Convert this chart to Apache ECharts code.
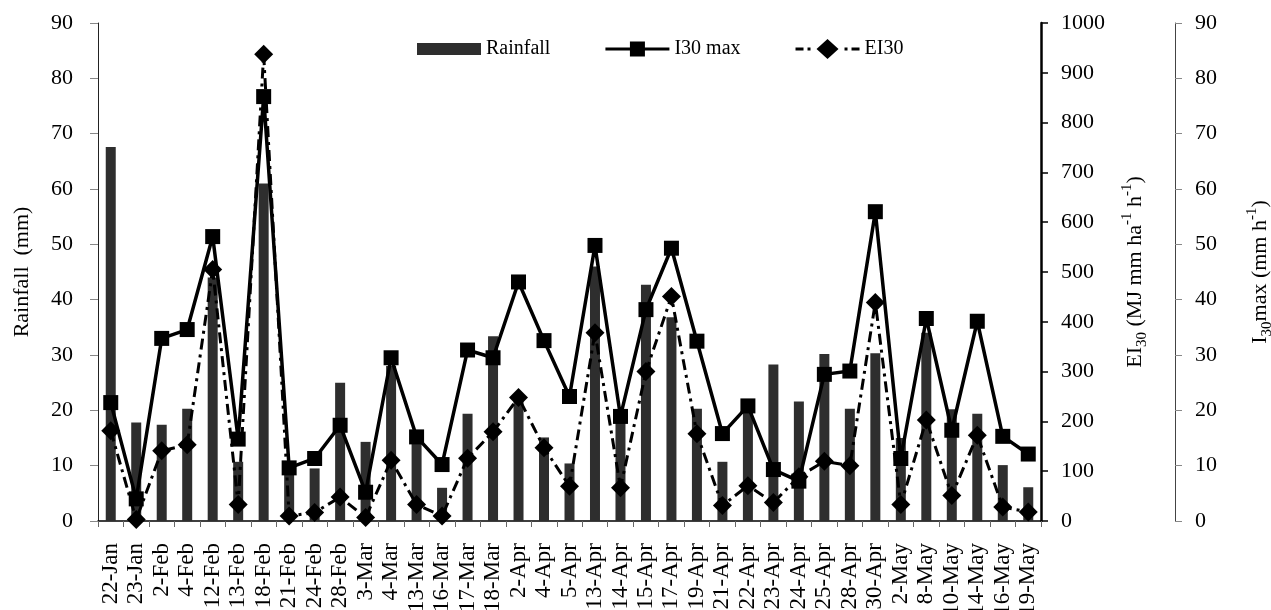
<!DOCTYPE html>
<html>
<head>
<meta charset="utf-8">
<script src="https://cdn.jsdelivr.net/npm/echarts@6/dist/echarts.min.js"></script>
<style>
html,body{margin:0;padding:0;background:#fff;}
#c{width:1271px;height:610px;}
</style>
</head>
<body>
<div id="c"></div>
<script>
var categories = ['22-Jan','23-Jan','2-Feb','4-Feb','12-Feb','13-Feb','18-Feb','21-Feb','24-Feb','28-Feb','3-Mar','4-Mar','13-Mar','16-Mar','17-Mar','18-Mar','2-Apr','4-Apr','5-Apr','13-Apr','14-Apr','15-Apr','17-Apr','19-Apr','21-Apr','22-Apr','23-Apr','24-Apr','25-Apr','28-Apr','30-Apr','2-May','8-May','10-May','14-May','16-May','19-May'];
var rainfall = [67.6,17.8,17.4,20.3,44,10.7,61.0,10,9.5,25.0,14.3,28,14.0,6.0,19.4,33.4,21.7,15.1,10.4,46,18,42.7,36.8,20.3,10.7,20,28.3,21.6,30.2,20.3,30.3,15,34,20.2,19.4,10.1,6.1];
var i30max = [21.4,4.0,33.0,34.6,51.4,14.8,76.7,9.6,11.3,17.3,5.2,29.5,15.2,10.2,30.9,29.5,43.2,32.6,22.5,49.8,18.9,38.2,49.3,32.5,15.8,20.8,9.3,7.2,26.5,27.1,55.9,11.3,36.6,16.4,36.1,15.3,12.1];
var ei30 = [181,3,141,153,505,33,937,10,17,48,7,122,33,10,126,179,248,147,70,378,67,300,451,175,31,71,37,89,120,111,439,33,203,51,172,28,18];
var leftTicks = [0,10,20,30,40,50,60,70,80,90];
var eiTicks = [0,100,200,300,400,500,600,700,800,900,1000];

var FONT = 'Liberation Serif';
var ICON_RAIN = 'path://M0,0 H64 V12 H0 Z';
var ICON_I30 = 'path://M0,8.5 H24.5 V2.5 H39.5 V8.5 H64 V11.5 H39.5 V17.5 H24.5 V11.5 H0 Z';
var ICON_EI = 'path://M0,8.5 H8 V11.5 H0 Z M12,8.5 H15 V11.5 H12 Z M21,10 L32,0 L43,10 L32,20 Z M49,8.5 H52 V11.5 H49 Z M56,8.5 H64 V11.5 H56 Z';

function richName(size, sub) {
  return {
    n: {fontFamily: FONT, fontSize: size, color: '#000', lineHeight: 30, verticalAlign: 'middle'},
    sub: {fontFamily: FONT, fontSize: sub, color: '#000', lineHeight: 30, verticalAlign: 'bottom'},
    sup: {fontFamily: FONT, fontSize: sub, color: '#000', lineHeight: 30, verticalAlign: 'top'}
  };
}

var chart = echarts.init(document.getElementById('c'), null, {renderer:'canvas'});
var option = {
  backgroundColor: '#ffffff',
  animation: false,
  textStyle: {fontFamily: FONT, color: '#000'},
  legend: {
    left: 412, top: 34,
    itemWidth: 64, itemHeight: 20, itemGap: 55,
    symbolKeepAspect: true,
    textStyle: {fontFamily: FONT, fontSize: 20, color: '#000'},
    data: [{name:'Rainfall', icon: ICON_RAIN}, {name:'I30 max', icon: ICON_I30}, {name:'EI30', icon: ICON_EI}]
  },
  grid: {left: 98, right: 230, top: 23, bottom: 89, containLabel: false, outerBoundsMode: 'none'},
  xAxis: {
    type: 'category', data: categories,
    boundaryGap: true,
    axisLine: {lineStyle: {color: '#000', width: 1.5}},
    axisTick: {show: true, alignWithLabel: false, length: 6, lineStyle: {color: '#666'}},
    axisLabel: {rotate: 90, interval: 0, fontFamily: FONT, fontSize: 23, color: '#000', margin: 22}
  },
  yAxis: [
    {
      type: 'value', min: 0, max: 90, interval: 10, position: 'left',
      name: 'Rainfall  (mm)', nameLocation: 'middle', nameGap: 65, nameRotate: 90,
      nameTextStyle: {fontFamily: FONT, fontSize: 22, color: '#000'},
      axisLine: {show: true, lineStyle: {color: '#222', width: 1}},
      axisTick: {show: true, length: 8, lineStyle: {color: '#888'}},
      axisLabel: {fontFamily: FONT, fontSize: 22, color: '#000', margin: 25},
      splitLine: {show: false}
    },
    {
      type: 'value', min: 0, max: 1000, interval: 100, position: 'right', offset: 0,
      name: '{n|EI}{sub|30}{n| (MJ mm ha}{sup|-1}{n| h}{sup|-1}{n|)}',
      nameLocation: 'middle', nameGap: 79, nameRotate: 90,
      nameTextStyle: {fontFamily: FONT, fontSize: 22, color: '#000', rich: richName(22, 15)},
      axisLine: {show: true, lineStyle: {color: '#000', width: 2.5}},
      axisTick: {show: true, length: 7, lineStyle: {color: '#000', width: 1.5}},
      axisLabel: {fontFamily: FONT, fontSize: 22, color: '#000', margin: 20,
        formatter: function (v) { return String(v); }},
      splitLine: {show: false}
    },
    {
      type: 'value', min: 0, max: 90, interval: 10, position: 'right', offset: 134,
      name: '{n|I}{sub|30}{n|max (mm h}{sup|-1}{n|)}',
      nameLocation: 'middle', nameGap: 70, nameRotate: 90,
      nameTextStyle: {fontFamily: FONT, fontSize: 22, color: '#000', rich: richName(22, 15)},
      axisLine: {show: true, lineStyle: {color: '#444', width: 1}},
      axisTick: {show: true, length: 7, lineStyle: {color: '#888'}},
      axisLabel: {fontFamily: FONT, fontSize: 22, color: '#000', margin: 20},
      splitLine: {show: false}
    }
  ],
  series: [
    {
      name: 'Rainfall', type: 'bar', yAxisIndex: 0, data: rainfall,
      barWidth: 10, itemStyle: {color: '#2e2e2e'}, z: 1
    },
    {
      name: 'I30 max', type: 'line', yAxisIndex: 2, data: i30max,
      symbol: 'rect', symbolSize: 15,
      lineStyle: {color: '#000', width: 3.5},
      itemStyle: {color: '#000'}, z: 3
    },
    {
      name: 'EI30', type: 'line', yAxisIndex: 1, data: ei30,
      symbol: 'diamond', symbolSize: 19,
      lineStyle: {color: '#000', width: 3, type: [11, 5, 3, 5]},
      itemStyle: {color: '#000'}, z: 4
    }
  ]
};
chart.setOption(option);
</script>
</body>
</html>
